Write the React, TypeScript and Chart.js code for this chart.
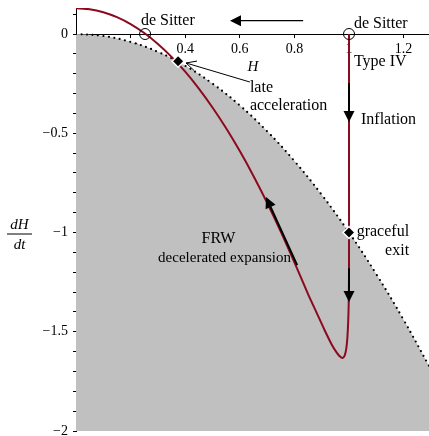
import { useEffect, useRef } from "react";
import { Chart, registerables } from "chart.js";

Chart.register(...registerables);

// Trajectory in the (H, dH/dt) plane
const curveH = [0, 0.05, 0.1, 0.15, 0.2, 0.25, 0.3, 0.35, 0.4, 0.45, 0.5, 0.55, 0.6, 0.65, 0.7, 0.75, 0.8, 0.85, 0.88, 0.91, 0.935, 0.955, 0.967, 0.976, 0.984, 0.99, 0.994, 0.997, 0.999, 1.0, 1.0, 1.0];
const curveDH = [0.13, 0.125, 0.11, 0.085, 0.05, 0.005, -0.05, -0.115, -0.19, -0.275, -0.37, -0.475, -0.59, -0.715, -0.85, -0.995, -1.15, -1.31, -1.4, -1.49, -1.56, -1.605, -1.625, -1.632, -1.62, -1.585, -1.53, -1.45, -1.35, -1.2, -0.6, 0];

// Boundary of the shaded region (dotted)
const boundaryH = [0, 0.1, 0.2, 0.3, 0.4, 0.5, 0.6, 0.7, 0.8, 0.9, 1.0, 1.1, 1.2, 1.293];
const boundaryDH = [0, -0.01, -0.04, -0.09, -0.16, -0.25, -0.36, -0.49, -0.64, -0.81, -1.0, -1.21, -1.44, -1.672];

// Fixed points
const deSitterH = [0.253, 1.0];
const deSitterDH = [0, 0];
const markedH = [0.374, 1.0];
const markedDH = [-0.137, -1.0];

// Axes
const xTickValues = [0.2, 0.4, 0.6, 0.8, 1, 1.2];
const xTickLabels = ["0.2", "0.4", "0.6", "0.8", "1", "1.2"];
const yTickValues = [-2, -1.9, -1.8, -1.7, -1.6, -1.5, -1.4, -1.3, -1.2, -1.1, -1, -0.9, -0.8, -0.7, -0.6, -0.5, -0.4, -0.3, -0.2, -0.1, 0, 0.1];
const yLabelValues = [0, -0.5, -1, -1.5, -2];
const yLabelTexts = ["0", "\u22120.5", "\u22121", "\u22121.5", "\u22122"];

// Direction arrows (data coordinates): [H, dH/dt]
const arrowFrom = [[0.832, 0.067], [1.0, -0.247], [1.0, -1.18], [0.81, -1.164]];
const arrowTo = [[0.564, 0.067], [1.0, -0.443], [1.0, -1.35], [0.696, -0.821]];

// Text annotations
const noteTexts = ["de Sitter", "de Sitter", "Type IV", "late", "acceleration", "Inflation", "graceful", "exit", "FRW", "decelerated expansion"];
const noteH = [0.238, 1.018, 1.018, 0.637, 0.637, 1.044, 1.22, 1.22, 0.522, 0.544];
const noteDH = [0.045, 0.03, -0.161, -0.292, -0.383, -0.453, -1.018, -1.113, -1.053, -1.149];
const noteAlign = ["left", "left", "left", "left", "left", "left", "right", "right", "center", "center"];
const noteSize = [16, 16, 16, 16, 16, 16, 16, 16, 16, 15];

const SERIF = '"Liberation Serif", "Times New Roman", serif';
const RED = "#8b0a1e";

const overlay = {
  id: "overlay",
  afterDatasetsDraw(chart: any) {
    const { ctx } = chart;
    const xs = chart.scales.x;
    const ys = chart.scales.y;
    const px = (v: number) => xs.getPixelForValue(v);
    const py = (v: number) => ys.getPixelForValue(v);
    ctx.save();

    // direction arrows
    arrowFrom.forEach((f, i) => {
      const t = arrowTo[i];
      const x1 = px(f[0]), y1 = py(f[1]), x2 = px(t[0]), y2 = py(t[1]);
      const ang = Math.atan2(y2 - y1, x2 - x1);
      const L = 11, W = 5.5;
      const bx = x2 - L * Math.cos(ang), by = y2 - L * Math.sin(ang);
      ctx.strokeStyle = "#000";
      ctx.lineWidth = i === 0 ? 1.2 : 2;
      ctx.beginPath();
      ctx.moveTo(x1, y1);
      ctx.lineTo(bx, by);
      ctx.stroke();
      ctx.fillStyle = "#000";
      ctx.beginPath();
      ctx.moveTo(x2, y2);
      ctx.lineTo(bx + W * Math.sin(ang), by - W * Math.cos(ang));
      ctx.lineTo(bx - W * Math.sin(ang), by + W * Math.cos(ang));
      ctx.closePath();
      ctx.fill();
    });

    // pointer for "late acceleration"
    {
      const x1 = px(0.637), y1 = py(-0.242), x2 = px(0.403), y2 = py(-0.146);
      const ang = Math.atan2(y2 - y1, x2 - x1);
      ctx.strokeStyle = "#000";
      ctx.lineWidth = 1;
      ctx.beginPath();
      ctx.moveTo(x1, y1);
      ctx.lineTo(x2, y2);
      const L = 10, W = 5;
      const bx = x2 - L * Math.cos(ang), by = y2 - L * Math.sin(ang);
      ctx.moveTo(bx + W * Math.sin(ang), by - W * Math.cos(ang));
      ctx.lineTo(x2, y2);
      ctx.lineTo(bx - W * Math.sin(ang), by + W * Math.cos(ang));
      ctx.stroke();
    }

    // texts
    ctx.fillStyle = "#000";
    ctx.textBaseline = "alphabetic";
    noteTexts.forEach((s, i) => {
      ctx.font = `${noteSize[i]}px ${SERIF}`;
      ctx.textAlign = noteAlign[i];
      ctx.fillText(s, px(noteH[i]), py(noteDH[i]));
    });

    // axis label H
    ctx.font = `italic 15px ${SERIF}`;
    ctx.textAlign = "center";
    ctx.fillText("H", px(0.648), py(-0.186));

    // dH/dt fraction
    const fy = py(-1) + 1;
    const fx = 19.5;
    ctx.fillText("dH", fx, fy - 5);
    ctx.fillText("dt", fx, fy + 15);
    ctx.lineWidth = 1;
    ctx.beginPath();
    ctx.moveTo(7, fy + 0.5);
    ctx.lineTo(32, fy + 0.5);
    ctx.stroke();

    ctx.restore();
  },
};

export default function App() {
  const ref = useRef<HTMLCanvasElement>(null);
  useEffect(() => {
    document.body.style.margin = "0";
    const canvas = ref.current!;
    const chart = new Chart(canvas, {
      type: "scatter",
      data: {
        datasets: [
          {
            label: "marked",
            data: markedH.map((h, i) => ({ x: h, y: markedDH[i] })),
            showLine: false,
            pointStyle: "rectRot",
            pointRadius: 6,
            backgroundColor: "#000",
            borderColor: "#fff",
            borderWidth: 1.5,
          },
          {
            label: "deSitter",
            data: deSitterH.map((h, i) => ({ x: h, y: deSitterDH[i] })),
            showLine: false,
            pointStyle: "circle",
            pointRadius: 5.5,
            backgroundColor: "rgba(0,0,0,0)",
            borderColor: "#000",
            borderWidth: 1,
          },
          {
            label: "trajectory",
            data: curveH.map((h, i) => ({ x: h, y: curveDH[i] })),
            showLine: true,
            borderColor: RED,
            borderWidth: 2,
            pointRadius: 0,
            tension: 0.25,
            fill: false,
          },
          {
            label: "boundary",
            data: boundaryH.map((h, i) => ({ x: h, y: boundaryDH[i] })),
            showLine: true,
            borderColor: "#000",
            borderWidth: 2.2,
            borderDash: [0, 5.5],
            borderCapStyle: "round",
            pointRadius: 0,
            tension: 0.4,
            fill: "start",
            backgroundColor: "#c0c0c0",
          },
        ] as any,
      },
      options: {
        animation: false,
        responsive: false,
        layout: { autoPadding: false, padding: { top: 8, left: 0, right: 0, bottom: 5 } },
        plugins: { legend: { display: false }, tooltip: { enabled: false } },
        scales: {
          x: {
            type: "linear",
            min: 0,
            max: 1.293,
            position: { y: 0 } as any,
            z: 1,
            afterBuildTicks: (s: any) => {
              s.ticks = xTickValues.map((v) => ({ value: v }));
            },
            afterFit: (s: any) => {
              s.paddingLeft = 0;
              s.paddingRight = 0;
            },
            ticks: {
              callback: (v: any) => {
                const i = xTickValues.findIndex((t) => Math.abs(t - v) < 1e-6);
                return i >= 0 ? xTickLabels[i] : "";
              },
              color: "#000",
              font: { family: SERIF, size: 14 },
              padding: 4,
              maxRotation: 0,
              autoSkip: false,
            },
            grid: { drawOnChartArea: false, drawTicks: true, tickLength: 3, color: "#000" },
            border: { color: "#000", width: 1 },
          },
          y: {
            type: "linear",
            min: -2,
            max: 0.131,
            z: 1,
            afterBuildTicks: (s: any) => {
              s.ticks = yTickValues.map((v) => ({ value: v }));
            },
            afterFit: (s: any) => {
              s.width = 76;
              s.paddingTop = 0;
              s.paddingBottom = 0;
            },
            ticks: {
              callback: (v: any) => {
                const i = yLabelValues.findIndex((t) => Math.abs(t - v) < 1e-6);
                return i >= 0 ? yLabelTexts[i] : "";
              },
              color: "#000",
              font: { family: SERIF, size: 14 },
              padding: 5,
              autoSkip: false,
            },
            grid: { drawOnChartArea: false, drawTicks: true, tickLength: 3, color: "#000" },
            border: { color: "#000", width: 1 },
          },
        },
      },
      plugins: [overlay],
    });
    return () => chart.destroy();
  }, []);
  return (
    <div style={{ width: 429, height: 436, position: "relative", background: "#fff" }}>
      <canvas ref={ref} width={429} height={436} style={{ width: 429, height: 436, display: "block" }} />
    </div>
  );
}
